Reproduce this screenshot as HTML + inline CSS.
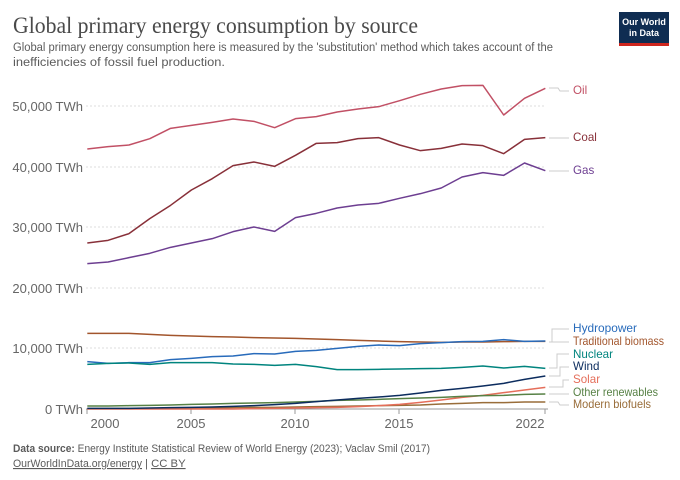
<!DOCTYPE html>
<html><head><meta charset="utf-8"><style>
html,body{margin:0;padding:0;background:#fff;}
body{width:680px;height:480px;overflow:hidden;position:relative;font-family:"Liberation Sans",sans-serif;}
</style></head><body>
<svg width="680" height="480" viewBox="0 0 680 480" xmlns="http://www.w3.org/2000/svg" style="position:absolute;left:0;top:0">
<text x="13" y="33" font-family="Liberation Serif,serif" font-size="23" fill="#4a4a4a" textLength="405" lengthAdjust="spacingAndGlyphs">Global primary energy consumption by source</text>
<text x="13" y="51" font-size="12.3" fill="#5b5b5b" textLength="540" lengthAdjust="spacingAndGlyphs">Global primary energy consumption here is measured by the 'substitution' method which takes account of the</text>
<text x="13" y="66" font-size="12.3" fill="#5b5b5b" textLength="212" lengthAdjust="spacingAndGlyphs">inefficiencies of fossil fuel production.</text>
<rect x="619" y="12" width="50" height="34" fill="#0f2d52"/>
<rect x="619" y="43" width="50" height="3" fill="#ce261e"/>
<text x="644" y="25" font-size="9" fill="#fff" text-anchor="middle" font-weight="bold">Our World</text>
<text x="644" y="36" font-size="9" fill="#fff" text-anchor="middle" font-weight="bold">in Data</text>
<g stroke="#ddd" stroke-dasharray="2,2" stroke-width="1">
<line x1="86" y1="106" x2="546" y2="106"/><line x1="86" y1="167" x2="546" y2="167"/><line x1="86" y1="227" x2="546" y2="227"/><line x1="86" y1="288" x2="546" y2="288"/><line x1="86" y1="348" x2="546" y2="348"/>
</g>
<line x1="86" y1="409" x2="548" y2="409" stroke="#999"/>
<g stroke="#999"><line x1="87" y1="409" x2="87" y2="414"/><line x1="191" y1="409" x2="191" y2="414"/><line x1="295" y1="409" x2="295" y2="414"/><line x1="399" y1="409" x2="399" y2="414"/><line x1="545" y1="409" x2="545" y2="414"/></g>
<g font-size="13" fill="#666" text-anchor="end">
<text x="83" y="111">50,000 TWh</text><text x="83" y="172">40,000 TWh</text><text x="83" y="232">30,000 TWh</text><text x="83" y="293">20,000 TWh</text><text x="83" y="353">10,000 TWh</text><text x="83" y="414">0 TWh</text>
</g>
<g font-size="13" fill="#666" text-anchor="middle">
<text x="105" y="428">2000</text><text x="191" y="428">2005</text><text x="295" y="428">2010</text><text x="399" y="428">2015</text><text x="530" y="428">2022</text>
</g>
<g fill="none" stroke-width="1.5" stroke-linejoin="round">
<g transform="translate(87.3,70) scale(20.82,0.33333)">
<polyline vector-effect="non-scaling-stroke" stroke="#c15065" points="0,237 1,230 2,225 3,206 4,175 5,166 6,157 7,147 8,154 9,173 10,146 11,140 12,126 13,117 14,110 15,92 16,73 17,57 18,47 19,46 20,135 21,85 22,55"/>
<polyline vector-effect="non-scaling-stroke" stroke="#883039" points="0,519 1,511 2,491 3,446 4,406 5,360 6,326 7,287 8,276 9,289 10,256 11,220 12,218 13,206 14,203 15,225 16,242 17,235 18,222 19,227 20,251 21,208 22,203"/>
<polyline vector-effect="non-scaling-stroke" stroke="#6d3e91" points="0,581 1,576 2,563 3,550 4,532 5,519 6,506 7,485 8,471 9,484 10,443 11,430 12,414 13,405 14,400 15,385 16,371 17,354 18,321 19,308 20,316 21,279 22,302"/>
</g>
<g transform="translate(87.3,320) scale(20.82,0.33333)">
<polyline vector-effect="non-scaling-stroke" stroke="#a2552c" points="0,40 1,40 2,40 3,43 4,46 5,48 6,50 7,51 8,53 9,54 10,55 11,57 12,59 13,61 14,63 15,65 16,66 17,67 18,66 19,66 20,65 21,64 22,64"/>
<polyline vector-effect="non-scaling-stroke" stroke="#286bbb" points="0,125 1,130 2,128 3,128 4,119 5,115 6,110 7,108 8,101 9,102 10,94 11,91 12,85 13,79 14,75 15,77 16,71 17,68 18,65 19,64 20,59 21,64 22,63"/>
<polyline vector-effect="non-scaling-stroke" stroke="#00847e" points="0,133 1,130 2,129 3,133 4,128 5,128 6,128 7,132 8,133 9,136 10,133 11,140 12,149 13,149 14,148 15,147 16,146 17,145 18,142 19,138 20,144 21,139 22,145"/>
<polyline vector-effect="non-scaling-stroke" stroke="#996d39" points="0,266 1,266 2,266 3,266 4,265 5,265 6,264 7,263 8,262 9,262 10,261 11,260 12,259 13,258 14,257 15,256 16,255 17,252 18,250 19,248 20,248 21,246 22,246"/>
<polyline vector-effect="non-scaling-stroke" stroke="#e56e5a" points="0,267 1,267 2,267 3,267 4,267 5,267 6,267 7,267 8,266 9,265 10,264 11,263 12,262 13,260 14,257 15,253 16,247 17,240 18,232 19,226 20,218 21,210 22,202"/>
<polyline vector-effect="non-scaling-stroke" stroke="#578145" points="0,258 1,258 2,257 3,256 4,255 5,253 6,252 7,250 8,249 9,248 10,246 11,244 12,241 13,240 14,238 15,236 16,234 17,232 18,229 19,227 20,226 21,223 22,222"/>
<polyline vector-effect="non-scaling-stroke" stroke="#0c2c5e" points="0,265 1,265 2,265 3,264 4,263 5,262 6,261 7,259 8,257 9,254 10,250 11,245 12,240 13,235 14,231 15,226 16,219 17,211 18,205 19,198 20,190 21,178 22,168"/>
</g>
</g>
<g fill="none" stroke="#ccc" stroke-width="1">
<polyline points="549,88 558,88 560,91 569,91"/>
<line x1="549" y1="138" x2="569" y2="138"/>
<line x1="549" y1="171" x2="569" y2="171"/>
<polyline points="549,342 552,342 552,329 569,329"/>
<polyline points="549,342 569,342"/>
<polyline points="549,368 557,368 557,354 569,354"/>
<polyline points="549,376 560,376 560,367 569,367"/>
<polyline points="549,387 563,387 563,380 569,380"/>
<polyline points="549,394 569,394"/>
<polyline points="549,402 558,402 560,405 569,405"/>
</g>
<g font-size="11.6" dominant-baseline="middle">
<text x="573" y="91" fill="#c15065">Oil</text>
<text x="573" y="138" fill="#883039">Coal</text>
<text x="573" y="171" fill="#6d3e91">Gas</text>
<text x="573" y="329" fill="#286bbb" textLength="64" lengthAdjust="spacingAndGlyphs">Hydropower</text>
<text x="573" y="342" fill="#a2552c" textLength="91" lengthAdjust="spacingAndGlyphs">Traditional biomass</text>
<text x="573" y="355" fill="#00847e">Nuclear</text>
<text x="573" y="367" fill="#0c2c5e">Wind</text>
<text x="573" y="380" fill="#e56e5a">Solar</text>
<text x="573" y="393" fill="#578145" textLength="85" lengthAdjust="spacingAndGlyphs">Other renewables</text>
<text x="573" y="405" fill="#996d39" textLength="78" lengthAdjust="spacingAndGlyphs">Modern biofuels</text>
</g>
<text x="13" y="452" font-size="11.3" fill="#5b5b5b" textLength="417" lengthAdjust="spacingAndGlyphs"><tspan font-weight="bold">Data source:</tspan> Energy Institute Statistical Review of World Energy (2023); Vaclav Smil (2017)</text>
<text x="13" y="467" font-size="11.3" fill="#5b5b5b" text-decoration="underline" textLength="129" lengthAdjust="spacingAndGlyphs">OurWorldInData.org/energy</text>
<text x="145" y="467" font-size="11.3" fill="#5b5b5b">| <tspan text-decoration="underline">CC BY</tspan></text>
</svg>
</body></html>
